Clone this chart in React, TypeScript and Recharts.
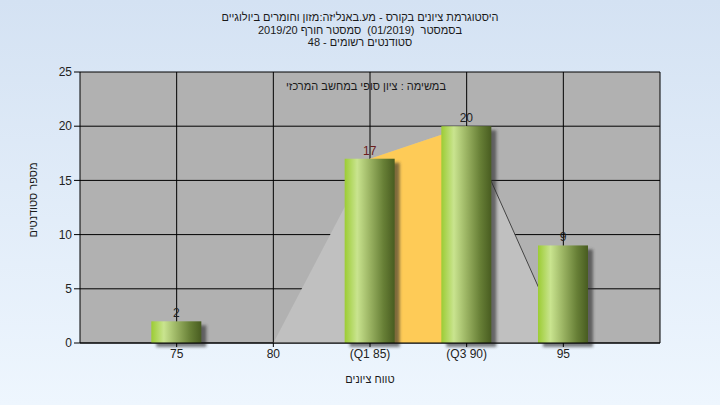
import React from "react";
import {
  ComposedChart,
  Bar,
  Area,
  XAxis,
  YAxis,
  CartesianGrid,
  LabelList,
} from "recharts";

const categories = [75, 80, 85, 90, 95];
const tickLabels: Record<number, string> = {
  75: "75",
  80: "80",
  85: "(Q1 85)",
  90: "(Q3 90)",
  95: "95",
};
const counts = [2, 0, 17, 20, 9];
const grayArea: (number | null)[] = [null, 0, 17, 20, 0];
const orangeArea: (number | null)[] = [null, null, 17, 20, null];
const edgeLine: (number | null)[] = [null, null, null, 20, 0];
const yTicks = [0, 5, 10, 15, 20, 25];

const titleLines = [
  "היסטוגרמת ציונים בקורס - מע.באנליזה:מזון וחומרים ביולוגיים",
  "בסמסטר  (01/2019)  סמסטר חורף 2019/20",
  "סטודנטים רשומים - 48",
];
const noteText = "במשימה : ציון סופי במחשב המרכזי";
const yLabel = "מספר סטודנטים";
const xLabel = "טווח ציונים";

const data = categories.map((c, i) => ({
  x: c,
  count: counts[i],
  gray: grayArea[i],
  orange: orangeArea[i],
  edge: edgeLine[i],
}));

const FONT = "'Liberation Sans', Arial, sans-serif";

const BarShape = (props: any) => {
  const { x, y, width, height, index } = props;
  if (!height || height <= 0) return null;
  const gid = `barGrad${index}`;
  const fid = `barShadow${index}`;
  return (
    <g>
      <defs>
        <linearGradient id={gid} x1="0" y1="0" x2="1" y2="0">
          <stop offset="0%" stopColor="#9ccc34" />
          <stop offset="25%" stopColor="#c9e48f" />
          <stop offset="50%" stopColor="#9bb463" />
          <stop offset="78%" stopColor="#677f36" />
          <stop offset="100%" stopColor="#485c20" />
        </linearGradient>
        <filter id={fid} x="-20%" y="-20%" width="140%" height="140%">
          <feGaussianBlur stdDeviation="1.8" />
        </filter>
      </defs>
      <rect
        x={x + 5}
        y={y + 4}
        width={width}
        height={height}
        fill="#2a2a2a"
        opacity={0.6}
        filter={`url(#${fid})`}
      />
      <rect x={x} y={y} width={width} height={height} fill={`url(#${gid})`} />
    </g>
  );
};

const ValueLabel = (props: any) => {
  const { x, y, width, value, index } = props;
  if (!value) return null;
  return (
    <text
      x={x + width / 2}
      y={y - 4}
      textAnchor="middle"
      fontFamily={FONT}
      fontSize={12}
      fill={index === 2 ? "#6a1d1d" : "#222"}
    >
      {value}
    </text>
  );
};

const hebStyle: React.CSSProperties = {
  fontFamily: FONT,
  fontSize: 11,
  color: "#1a1a1a",
  whiteSpace: "pre",
  textAlign: "center",
  position: "absolute",
};

export default function App() {
  return (
    <div
      style={{
        position: "absolute",
        left: 0,
        top: 0,
        width: 720,
        height: 405,
        background: "linear-gradient(to bottom, #d4e2f3 0%, #eef6fe 100%)",
        overflow: "hidden",
      }}
    >
      <ComposedChart
        width={720}
        height={405}
        data={data}
        margin={{ top: 72, right: 0, bottom: 0, left: 0 }}
      >
        <CartesianGrid
          yAxisId="left"
          stroke="#000"
          strokeWidth={1}
          fill="#b1b1b1"
          fillOpacity={1}
          verticalValues={categories}
          horizontalValues={yTicks}
        />
        <XAxis
          dataKey="x"
          type="number"
          domain={[70, 100]}
          ticks={categories}
          tickFormatter={(v: number) => tickLabels[v] ?? String(v)}
          height={62}
          axisLine={{ stroke: "#000" }}
          tickLine={{ stroke: "#000" }}
          tickSize={4}
          tick={{ fill: "#222", fontSize: 12, fontFamily: FONT }}
          interval={0}
        />
        <YAxis
          yAxisId="left"
          domain={[0, 25]}
          ticks={yTicks}
          width={80}
          axisLine={{ stroke: "#000" }}
          tickLine={{ stroke: "#000" }}
          tickSize={6}
          tick={{ fill: "#222", fontSize: 12, fontFamily: FONT }}
        />
        <YAxis
          yAxisId="right"
          orientation="right"
          domain={[0, 25]}
          ticks={yTicks}
          width={60}
          axisLine={{ stroke: "#000" }}
          tickLine={{ stroke: "#000" }}
          tickSize={6}
          tick={{ fill: "#222", fontSize: 12, fontFamily: FONT, textAnchor: "start" }}
        />
        <Area
          yAxisId="left"
          dataKey="gray"
          type="linear"
          fill="#c0c0c0"
          fillOpacity={1}
          stroke="none"
          isAnimationActive={false}
          connectNulls={false}
        />
        <Area
          yAxisId="left"
          dataKey="orange"
          type="linear"
          fill="#fecb57"
          fillOpacity={1}
          stroke="none"
          isAnimationActive={false}
          connectNulls={false}
        />
        <Area
          yAxisId="left"
          dataKey="edge"
          type="linear"
          fill="none"
          fillOpacity={0}
          stroke="#444"
          strokeWidth={1}
          dot={false}
          activeDot={false}
          isAnimationActive={false}
          connectNulls={false}
        />
        <Bar
          yAxisId="left"
          dataKey="count"
          barSize={50}
          shape={<BarShape />}
          isAnimationActive={false}
        >
          <LabelList dataKey="count" content={<ValueLabel />} />
        </Bar>
      </ComposedChart>
      <div
        dir="rtl"
        style={{ ...hebStyle, left: 0, top: 11, width: 720, lineHeight: "12.5px" }}
      >
        {titleLines.map((t, i) => (
          <div key={i}>{t}</div>
        ))}
      </div>
      <div dir="rtl" style={{ ...hebStyle, left: 166, top: 80, width: 400 }}>
        {noteText}
      </div>
      <div dir="rtl" style={{ ...hebStyle, left: 270, top: 373, width: 200 }}>
        {xLabel}
      </div>
      <div
        dir="rtl"
        style={{
          ...hebStyle,
          left: 35 - 100,
          top: 200 - 8,
          width: 200,
          height: 16,
          transform: "rotate(-90deg)",
          transformOrigin: "100px 8px",
        }}
      >
        {yLabel}
      </div>
    </div>
  );
}
